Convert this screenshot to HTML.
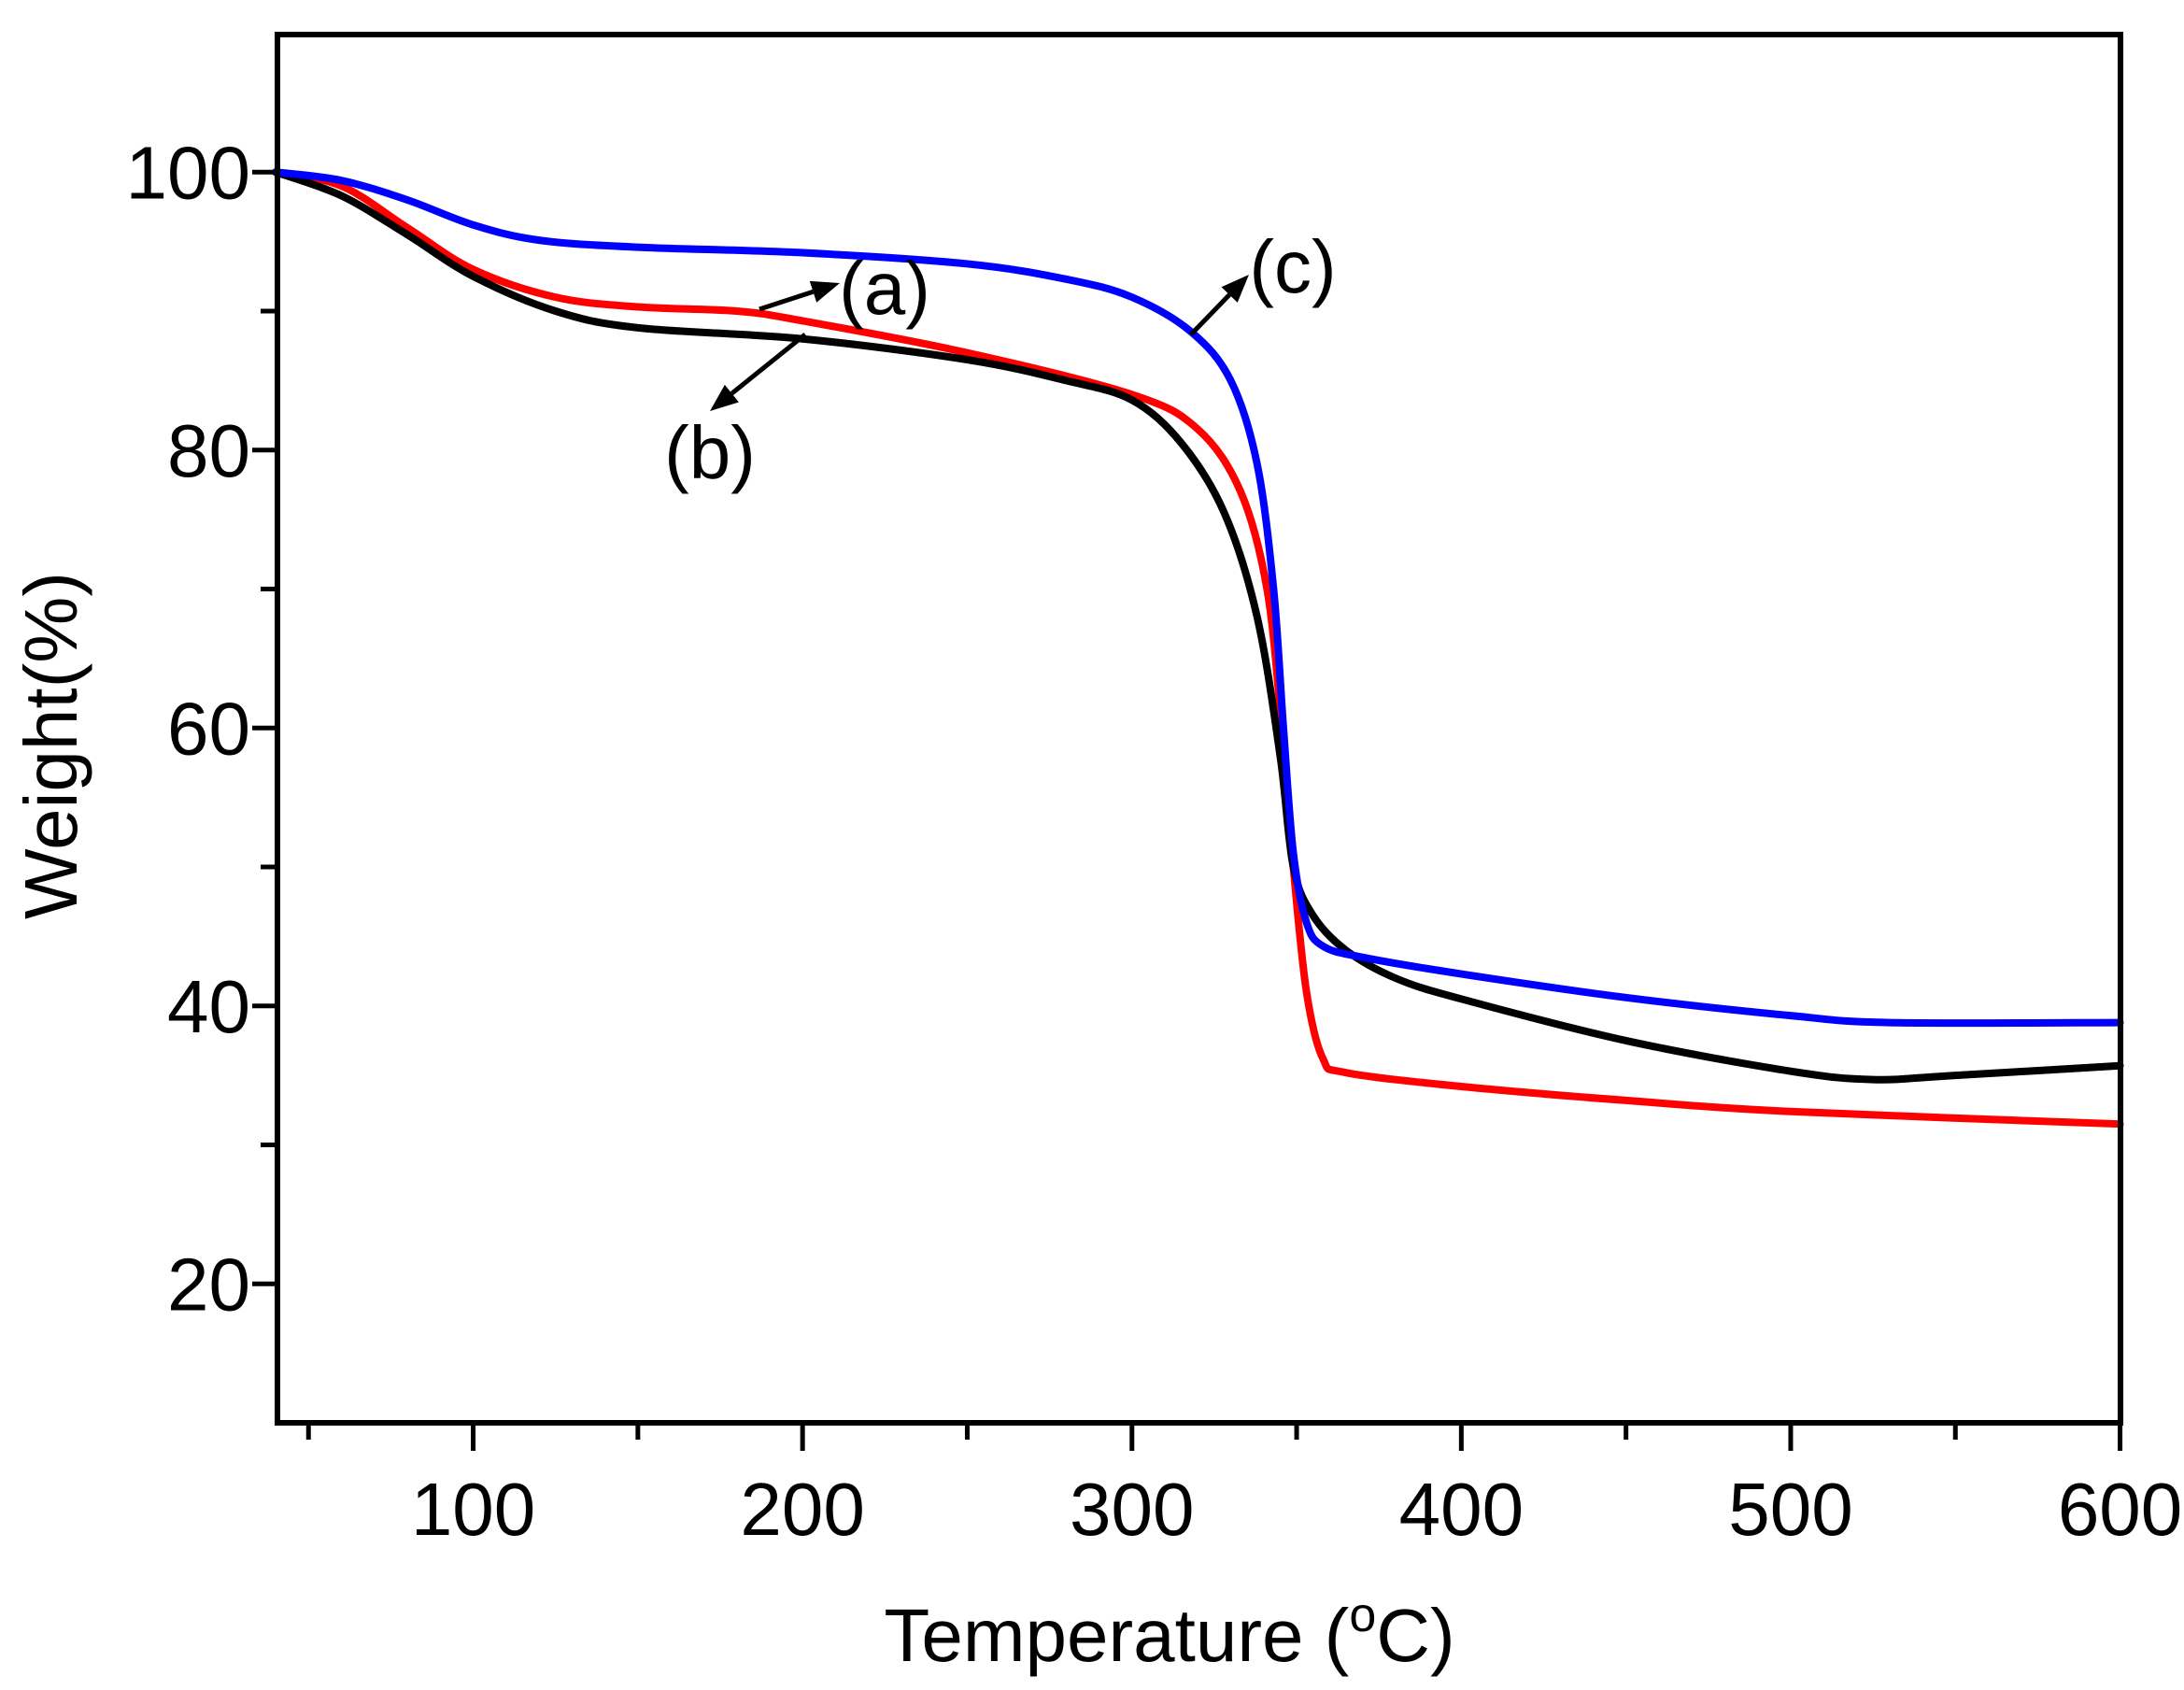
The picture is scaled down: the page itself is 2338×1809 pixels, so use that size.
<!DOCTYPE html>
<html><head><meta charset="utf-8"><style>
html,body{margin:0;padding:0;background:#fff}
svg{display:block}
text{font-family:"Liberation Sans",Arial,sans-serif;fill:#000}
</style></head><body>
<svg id="s" width="2338" height="1809" viewBox="0 0 2338 1809" xmlns="http://www.w3.org/2000/svg">
<g id="curves" fill="none" stroke-width="8" stroke-linejoin="round" stroke-linecap="round"></g>
<g id="axes" stroke="#000" stroke-width="6" fill="none">
<rect x="297" y="37" width="1973" height="1486"/>
</g>
<g id="ticks" stroke="#000" stroke-width="5"></g>
<g font-size="80" id="labels"></g>
<text x="1252" y="1778" font-size="80" text-anchor="middle">Temperature (<tspan font-size="52" dy="-32">o</tspan><tspan dy="32">C)</tspan></text>
<text transform="translate(82,798) rotate(-90)" font-size="80" text-anchor="middle">Weight(%)</text>
<g font-size="80" text-anchor="middle">
<text x="947" y="336">(a)</text>
<text x="760" y="512">(b)</text>
<text x="1384" y="313">(c)</text>
</g>
<g stroke="#000" stroke-width="5" id="arrows"></g>
</svg>
<script>
var NS="http://www.w3.org/2000/svg";
function X(t){return 295+(t-40)*3.526}
function Y(w){return 1523-(w-10)*14.875}
function el(p,tag,a,txt){var e=document.createElementNS(NS,tag);for(var k in a)e.setAttribute(k,a[k]);if(txt!==undefined)e.textContent=txt;p.appendChild(e);return e}
var tk=document.getElementById('ticks'),lb=document.getElementById('labels');
for(var w=10;w<=110;w+=10){var y=Y(w);var maj=(w%20==0);if(w==10||w==110)continue;
el(tk,'line',{x1:297,x2:297-(maj?27:18),y1:y,y2:y});
if(maj)el(lb,'text',{x:268,y:y+28,'text-anchor':'end'},String(w));}
for(var t=50;t<=600;t+=50){var x=X(t);var maj=(t%100==0);
el(tk,'line',{x1:x,x2:x,y1:1523,y2:1523+(maj?30:18)});
if(maj)el(lb,'text',{x:x,y:1643,'text-anchor':'middle'},String(t));}
function path(pts){var p=pts.map(function(a){return [X(a[0]),Y(a[1])]});var d='M'+p[0][0]+','+p[0][1];
for(var i=0;i<p.length-1;i++){var p0=p[i-1]||p[i],p1=p[i],p2=p[i+1],p3=p[i+2]||p2;
var c1=[p1[0]+(p2[0]-p0[0])/6,p1[1]+(p2[1]-p0[1])/6],c2=[p2[0]-(p3[0]-p1[0])/6,p2[1]-(p3[1]-p1[1])/6];
d+=' C'+c1+' '+c2+' '+p2;}return d}
var black=[[40,100],[60,98.3],[80,95.5],[100,92.5],[125,90],[150,88.8],[200,88],[250,86.5],[280,85],[300,83.6],[315,80.5],[328,75.5],[338,68],[345,58],[349,50],[355,46.5],[365,44],[380,42],[400,40.5],[450,37.5],[500,35.3],[525,34.7],[550,35],[600,35.7]];
var red=[[40,100],[60,99],[80,96],[100,93],[125,91],[150,90.3],[180,90],[200,89.3],[250,87],[300,84],[320,81.5],[333,77],[341,70],[345.5,60],[349,50],[353,41],[358,36.2],[365,35.2],[400,34.2],[450,33.2],[500,32.4],[600,31.5]];
var blue=[[40,100],[60,99.4],[80,98],[100,96.2],[120,95.1],[150,94.6],[200,94.2],[250,93.4],[280,92.3],[300,91],[318,88.5],[330,85],[338,79],[343,70],[346,60],[349,51],[353,46],[358,44.3],[370,43.5],[400,42.3],[450,40.6],[500,39.3],[530,38.8],[600,38.8]];
var g=document.getElementById('curves');
el(g,'path',{d:path(red),stroke:'#ff0000'});
el(g,'path',{d:path(black),stroke:'#000000'});
el(g,'path',{d:path(blue),stroke:'#0000ff'});
var ar=document.getElementById('arrows');
function arrow(x1,y1,x2,y2){var dx=x2-x1,dy=y2-y1,L=Math.hypot(dx,dy),ux=dx/L,uy=dy/L,h=30,wd=12;
var bx=x2-ux*h,by=y2-uy*h;el(ar,'line',{x1:x1,y1:y1,x2:bx,y2:by});
el(ar,'polygon',{points:x2+','+y2+' '+(bx-uy*wd)+','+(by+ux*wd)+' '+(bx+uy*wd)+','+(by-ux*wd),fill:'#000',stroke:'none'});}
arrow(813,331,899,303);arrow(862,358,760,440);arrow(1275,358,1337,294);
</script>
</body></html>
